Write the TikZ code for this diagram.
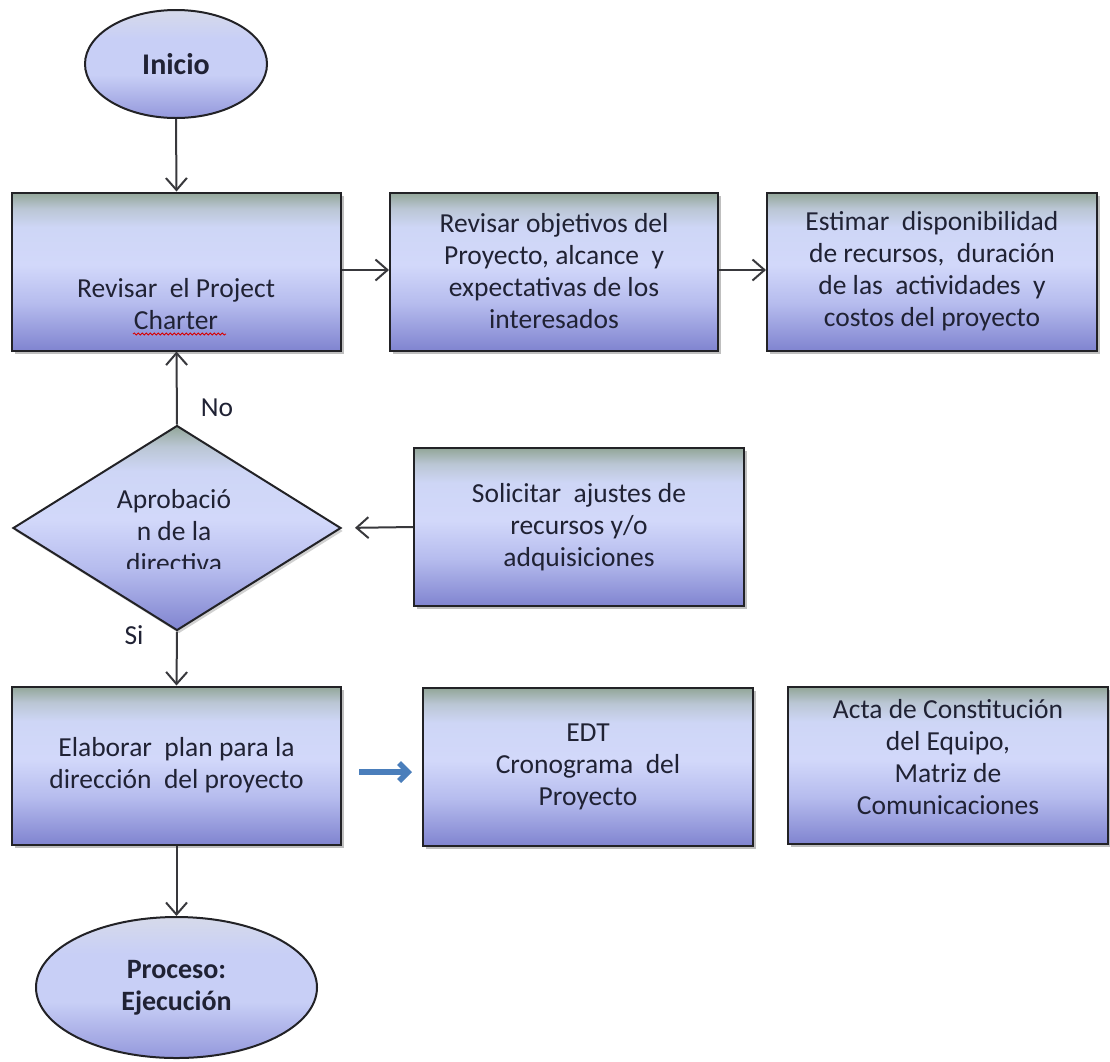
\documentclass[tikz,border=0pt]{standalone}
\usepackage{fontspec}
\setmainfont{Carlito}
\usetikzlibrary{arrows.meta,shapes.geometric,shadows,decorations.pathmorphing}

% colours
\definecolor{edge}{RGB}{34,34,38}
\definecolor{ink}{RGB}{32,34,52}
\definecolor{flowblue}{RGB}{74,126,187}
\definecolor{gTop}{RGB}{146,166,152}
\definecolor{gTopB}{RGB}{186,198,212}
\definecolor{gHi}{RGB}{206,214,246}
\definecolor{gMid}{RGB}{210,216,250}
\definecolor{gLow}{RGB}{182,188,238}
\definecolor{gBot}{RGB}{128,132,208}
\definecolor{oTop}{RGB}{214,218,234}
\definecolor{oMid}{RGB}{200,207,246}
\definecolor{oBot}{RGB}{148,152,220}

% Office-like vertical gradients (the 25bp..75bp band spans the shape)
\pgfdeclareverticalshading{boxfill}{100bp}{color(0bp)=(gBot); color(25bp)=(gBot);
  color(40bp)=(gLow); color(52bp)=(gMid); color(64bp)=(gHi); color(70bp)=(gTopB);
  color(75bp)=(gTop); color(100bp)=(gTop)}
\pgfdeclareverticalshading{ovalfill}{100bp}{color(0bp)=(oBot); color(25bp)=(oBot);
  color(45bp)=(oMid); color(62bp)=(oMid); color(75bp)=(oTop); color(100bp)=(oTop)}

\newcommand\boxfont{\fontsize{27.5}{32}\selectfont}
\newcommand\ovalfont{\fontsize{28}{32}\selectfont\bfseries}

\tikzset{
  stepbox/.style={draw=edge, line width=2pt, shading=boxfill, inner sep=0pt,
    minimum width=#1, minimum height=158pt, font=\boxfont, text=ink, align=center,
    drop shadow={shadow xshift=2.5pt, shadow yshift=-3pt, opacity=0.25, fill=black}},
  stepbox/.default=329pt,
  terminal/.style={ellipse, draw=edge, line width=2pt, shading=ovalfill, inner sep=0pt,
    font=\ovalfont, text=ink, align=center},
  decision/.style={diamond, draw=edge, line width=2pt, shading=boxfill, inner sep=0pt,
    minimum width=328pt, minimum height=205pt,
    drop shadow={shadow xshift=2pt, shadow yshift=-3pt, opacity=0.18, fill=black}},
  txt/.style={font=\boxfont, text=ink, align=center, inner sep=0pt},
  flow/.style={draw=edge!90, line width=2pt, -{Straight Barb[length=12pt,width=21pt]}},
  bigflow/.style={draw=flowblue, line width=5.5pt,
    -{Straight Barb[length=9pt,width=18pt]}},
}

\begin{document}
\begin{tikzpicture}[x=1pt,y=-1pt]
\useasboundingbox (0,0) rectangle (1110,1061);

% start and end
\node[terminal, minimum width=182pt, minimum height=108pt,
  font=\fontsize{30}{32}\selectfont\bfseries] (ini) at (176,64) {Inicio};
\node[terminal, minimum width=281pt, minimum height=141pt] (fin) at (176.5,987.5) {Proceso:\\Ejecución};

% top row
\node[stepbox] (b1) at (176.5,271.5) {};
\node[txt] (b1t) at (176,304) {Revisar\ \ el Project\\Charter};
\draw[red!85!black, line width=0.8pt, decorate,
  decoration={snake, amplitude=1.1pt, segment length=4pt}] (133,334) -- (226,334);
\node[stepbox=328pt] (b2) at (554,271.5)
  {Revisar objetivos del\\Proyecto, alcance\ \ y\\expectativas de los\\interesados};
\node[stepbox=330pt] (b3) at (932,271.5)
  {Estimar\ \ disponibilidad\\de recursos,\ \ duración\\de las\ \ actividades\ \ y\\costos del proyecto};

% decision
\node[decision] (dia) at (177,528) {};
\begin{scope}
  \clip (0,440) rectangle (360,568);
  \node[txt] (diat) at (174,531) {Aprobació\\n de la\\directiva};
\end{scope}
\node[stepbox=330pt] (sol) at (579,527)
  {Solicitar\ \ ajustes de\\recursos y/o\\adquisiciones};

% bottom row
\node[stepbox] (b4) at (176.5,765.5) {Elaborar\ \ plan para la\\dirección\ \ del proyecto};
\node[stepbox=330pt] (edt) at (588,767) {EDT\\Cronograma\ \ del\\Proyecto};
\node[stepbox=320pt, minimum height=157pt] (acta) at (948,765.5) {};
\node[txt] (actat) at (948,757) {Acta de Constitución\\del Equipo,\\Matriz de\\Comunicaciones};

% branch labels
\node[txt] (no) at (217,408) {No};
\node[txt] (si) at (134,635) {Si};

% connectors
\draw[flow] (ini.south) -- (b1.north);
\draw[flow] (b1.east |- 0,270) -- (b2.west |- 0,270);
\draw[flow] (b2.east |- 0,270) -- (b3.west |- 0,270);
\draw[flow] (dia.north) -- (b1.south);
\draw[flow, shorten >=13pt] (sol.west) -- (dia.east);
\draw[flow] (dia.south) -- (b4.north);
\draw[flow] (b4.south) -- (fin.north);
\draw[bigflow, shorten <=17pt, shorten >=10pt] ([yshift=-6.5pt]b4.east) -- ([yshift=-6.5pt]b4.east -| edt.west);
\end{tikzpicture}
\end{document}
